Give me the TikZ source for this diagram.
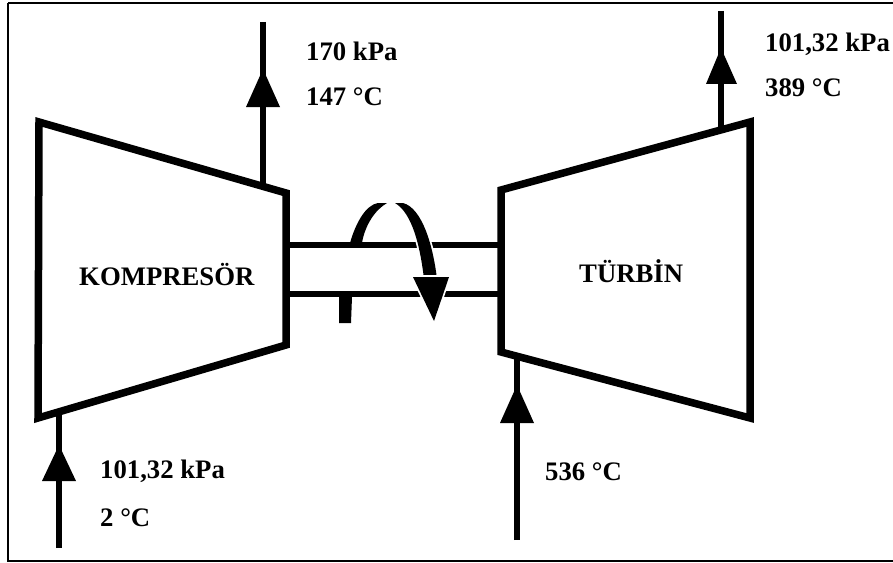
\documentclass[tikz,border=0pt]{standalone}
\usepackage{fontspec}
\setmainfont{Liberation Serif}
\usepackage{tikz}
\tikzset{
  duct/.style={line width=6.4pt,miter limit=10},
  pipe/.style={line width=5pt},
  tip/.style={fill=black},
  halo/.style={preaction={draw=white,line width=3pt}},
  lbl/.style={font=\fontsize{22.8}{26}\bfseries\selectfont,anchor=west,inner sep=0pt},
}
\begin{document}
\begin{tikzpicture}[x=0.03cm,y=-0.03cm]
\useasboundingbox (0,0) rectangle (893,563);
\draw[line width=2pt] (8,3)--(893,3) (8,3)--(8,561)--(893,561);
\draw[duct] (39,122)--(286,193)--(286,345)--(38,418)--cycle;
\draw[duct] (501,190)--(750,122)--(750,418)--(501,352)--cycle;
\coordinate (shaftaw) at (286,245);
\coordinate (shaftae) at (501,245);
\coordinate (shaftbw) at (286,294);
\coordinate (shaftbe) at (501,294);
\draw[pipe] (shaftaw)--(shaftae);
\draw[pipe] (shaftbw)--(shaftbe);
% flow lines
\coordinate (cin) at (59,548);
\coordinate (cinend) at (59,415);
\coordinate (cout) at (263,22);
\coordinate (coutend) at (263,187);
\coordinate (tin) at (517,540);
\coordinate (tinend) at (517,355);
\coordinate (tout) at (721,11);
\coordinate (toutend) at (721,130);
\draw[pipe] (cin)--(cinend);
\draw[pipe] (cout)--(coutend);
\draw[pipe] (tin)--(tinend);
\draw[pipe] (tout)--(toutend);
\fill[tip] (59,445)--(42,481)--(76,481)--cycle;
\fill[tip] (263,69)--(246,107)--(280,107)--cycle;
\fill[tip] (517,385)--(500,423)--(534,423)--cycle;
\fill[tip] (721,48)--(706,84)--(737,84)--cycle;
% rotation
\fill (350,243) .. controls (356,222) and (366,205) .. (378,203) -- (387,203) .. controls (375,210) and (365,225) .. (362,243) -- cycle;
\fill[halo] (395,203) .. controls (412,213) and (420,245) .. (424,279) -- (437,279) .. controls (433,245) and (422,208) .. (403,203) -- cycle;
\fill[tip,halo] (413,277)--(449,277)--(434,321)--cycle;
\fill (339,297)--(352,297)--(351,323)--(339,323)--cycle;
% labels
\node[lbl] (komp) at (79,275) {KOMPRESÖR};
\node[lbl] (turb) at (579,271) {TÜRBİN};
\node[lbl] (c1) at (306,51) {170 kPa};
\node[lbl] (c2) at (306,97) {147 °C};
\node[lbl] (t1) at (765,44) {101,32 kPa};
\node[lbl] (t2) at (765,88) {389 °C};
\node[lbl] (i1) at (100,471) {101,32 kPa};
\node[lbl] (i2) at (100,518) {2 °C};
\node[lbl] (t3) at (545,472) {536 °C};
\end{tikzpicture}
\end{document}
